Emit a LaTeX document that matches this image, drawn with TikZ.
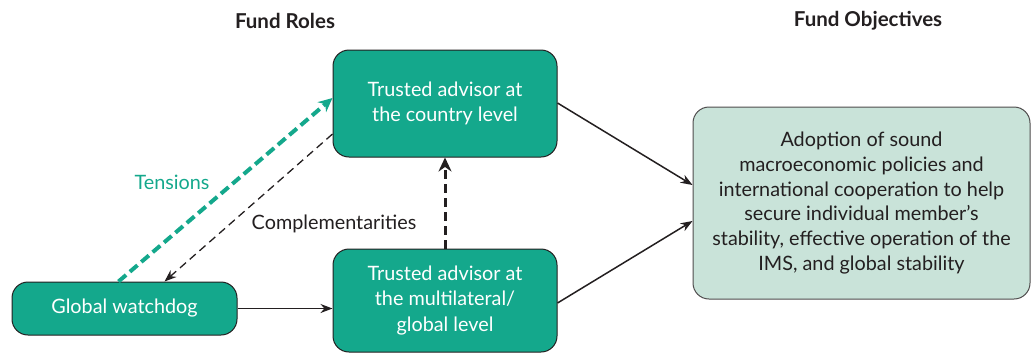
\documentclass[tikz,border=0pt]{standalone}
\usepackage{fontspec}
\setmainfont{Lato}
\usetikzlibrary{arrows.meta}

\definecolor{fundteal}{RGB}{20,168,140}
\definecolor{goalmint}{RGB}{201,227,217}
\definecolor{inkgray}{RGB}{35,31,32}

\begin{document}
\begin{tikzpicture}[x=1pt, y=-1pt, >={Stealth[length=12pt,width=9pt]}, thick,
  role/.style={draw=inkgray, line width=1pt, fill=fundteal, rounded corners=16pt,
    text=white, align=center, font=\fontsize{19.8}{25.5}\selectfont},
  goal/.style={draw=inkgray!80, line width=1pt, fill=goalmint, rounded corners=16pt,
    text=inkgray, align=center, font=\fontsize{19.8}{24.8}\selectfont},
  head/.style={font=\fontsize{20.5}{24}\selectfont\bfseries, text=inkgray}]

\useasboundingbox (0,0) rectangle (1032,354);

% titles
\node[head] (roles) at (285,21) {Fund Roles};
\node[head] (objectives) at (868,21) {Fund Objectives};

% boxes
\node[role, minimum width=224pt, minimum height=107pt] (country) at (445,103.5)
  {Trusted advisor at\\the country level};
\node[role, minimum width=224pt, minimum height=103pt] (multi) at (445,300.5)
  {Trusted advisor at\\the multilateral/\\global level};
\node[role, minimum width=225pt, minimum height=53pt] (watch) at (124.5,308.5)
  {Global watchdog};
\node[goal, minimum width=337pt, minimum height=192pt] (goal) at (861.5,203)
  {Adoption of sound\\macroeconomic policies and\\international cooperation to help\\secure individual member's\\stability, effective operation of the\\IMS, and global stability};

% arrows
\draw[->, fundteal, line width=4pt, dash pattern=on 10pt off 5pt,
  >={Stealth[length=14pt,width=13pt]}]
  ([xshift=107pt]watch.north west) -- ([yshift=5.5pt]country.west);
\draw[->, inkgray, line width=1.3pt, dash pattern=on 8pt off 5pt]
  ([yshift=-30.5pt]country.west) -- ([xshift=153pt]watch.north west);
\draw[->, inkgray, line width=3pt, dash pattern=on 9pt off 5pt,
  >={Stealth[length=14pt,width=13pt]}]
  (multi.north) -- (country.south);
\draw[->, inkgray, line width=1.5pt] (watch.east) -- (multi.west |- watch.east);
\draw[->, inkgray, line width=1.5pt]
  ([yshift=0.5pt]country.east) -- ([yshift=18pt]goal.west);
\draw[->, inkgray, line width=1.5pt]
  ([yshift=-2.5pt]multi.east) -- ([yshift=-18pt]goal.west);

% labels
\node[text=fundteal, font=\fontsize{19.8}{24}\selectfont] (tens) at (172,182) {Tensions};
\node[text=inkgray, font=\fontsize{19.8}{24}\selectfont] (compl) at (334,224) {Complementarities};

\end{tikzpicture}
\end{document}
